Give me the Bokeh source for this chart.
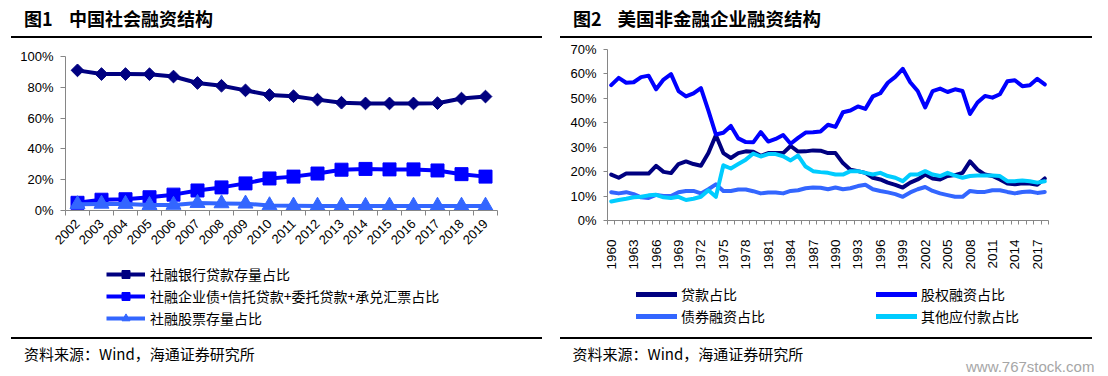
import math
from bokeh.plotting import figure
from bokeh.models import (Range1d, FixedTicker, PrintfTickFormatter, Legend,
                          LegendItem, Div)
from bokeh.layouts import row, column
from bokeh.embed import file_html
from bokeh.resources import INLINE

# ---------------- data: chart 1 (China) ----------------
years_cn = list(range(2002, 2020))
cn_bank_loans = [91.0, 88.6, 88.6, 88.5, 87.0, 82.8, 81.0, 78.0, 75.0, 74.2,
                 72.0, 70.0, 69.5, 69.5, 69.5, 69.7, 72.7, 74.0]
cn_bonds_trust = [5.0, 7.0, 7.3, 8.6, 10.3, 13.0, 15.0, 17.6, 20.8, 22.0,
                  24.0, 26.5, 27.0, 26.7, 26.7, 26.0, 23.6, 22.0]
cn_equity = [4.0, 4.3, 4.2, 3.5, 3.6, 4.8, 4.6, 4.4, 3.3, 3.1,
             3.0, 3.0, 2.9, 3.0, 3.0, 3.0, 3.0, 3.0]
cn_labels = ["社融银行贷款存量占比",
             "社融企业债+信托贷款+委托贷款+承兑汇票占比",
             "社融股票存量占比"]
cn_yticks = [0, 20, 40, 60, 80, 100]

# ---------------- data: chart 2 (US) ----------------
years_us = list(range(1960, 2019))
us_loans = [18.8, 17.5, 19.2, 19.2, 19.2, 19.2, 22.4, 19.9, 19.4, 23.1,
            24.2, 23.1, 22.4, 27.6, 34.9, 27.6, 25.6, 27.6, 28.3, 28.1,
            26.5, 27.6, 27.6, 27.6, 30.5, 28.2, 28.3, 28.7, 28.6, 27.6,
            27.6, 23.5, 20.8, 20.2, 19.5, 17.5, 16.8, 15.5, 14.6, 13.5,
            15.5, 16.8, 18.8, 17.2, 16.8, 18.2, 18.6, 19.5, 24.2, 20.8,
            18.8, 18.2, 16.8, 15.1, 14.8, 15.2, 15.1, 14.6, 17.2]
us_equity = [55.4, 58.4, 56.4, 56.6, 58.7, 59.3, 53.7, 57.7, 59.9, 53.0,
             50.8, 52.0, 54.2, 45.0, 35.2, 35.9, 38.7, 33.6, 32.1, 32.0,
             36.2, 32.3, 33.4, 35.0, 31.4, 33.8, 36.0, 36.1, 36.4, 39.2,
             38.3, 44.3, 45.0, 46.7, 45.7, 50.8, 52.1, 56.4, 58.8, 62.1,
             56.6, 53.0, 46.3, 53.0, 54.0, 52.6, 53.7, 53.0, 43.6, 48.3,
             51.0, 50.3, 51.7, 57.0, 57.4, 55.0, 55.4, 58.0, 55.7]
us_bonds = [11.6, 11.1, 11.6, 10.8, 9.5, 9.2, 10.5, 10.0, 10.0, 11.6,
            12.1, 12.1, 11.1, 12.8, 14.8, 12.1, 12.1, 12.7, 12.7, 12.0,
            11.1, 11.5, 11.5, 11.1, 12.1, 12.4, 13.2, 13.5, 13.4, 12.8,
            13.5, 12.8, 13.2, 14.1, 14.6, 12.8, 12.1, 11.5, 10.8, 9.7,
            11.5, 12.8, 13.7, 12.1, 11.1, 10.4, 9.7, 9.7, 12.1, 11.7,
            11.7, 12.4, 12.4, 11.7, 11.1, 11.7, 11.9, 11.3, 11.7]
us_other = [7.8, 8.4, 8.9, 9.5, 9.7, 10.3, 10.5, 9.5, 9.2, 9.7,
            8.4, 8.9, 9.7, 12.4, 9.7, 22.6, 21.3, 23.1, 24.9, 27.4,
            26.2, 27.2, 27.2, 26.3, 24.6, 26.6, 22.1, 20.2, 19.8, 19.5,
            18.8, 18.8, 20.2, 20.2, 19.5, 18.8, 19.5, 18.2, 17.5, 16.1,
            18.8, 18.8, 20.2, 18.8, 18.2, 19.5, 18.4, 17.5, 18.2, 18.4,
            18.4, 18.4, 18.2, 16.1, 16.1, 16.4, 16.1, 15.5, 16.1]
us_labels = ["贷款占比", "股权融资占比", "债券融资占比", "其他应付款占比"]
us_yticks = [0, 10, 20, 30, 40, 50, 60, 70]
us_xlabels = years_us[::3]

title1 = ("图1", "中国社会融资结构")
title2 = ("图2", "美国非金融企业融资结构")
source_text = "资料来源：Wind，海通证券研究所"
watermark = "www.767stock.com"

CJK = "Noto Sans CJK SC"
LAT = "Liberation Sans"
AXIS_GRAY = "#868686"
NAVY, BLUE, MID, CYAN = "#000080", "#0000FF", "#3366FF", "#00CCFF"

COL_W = 554
TOP_H, BOT_H = 38, 44


def base_fig(height, xr, yr, left, right, top, bottom):
    p = figure(width=COL_W, height=height, x_range=xr, y_range=yr,
               output_backend="svg", toolbar_location=None,
               min_border_left=left, min_border_right=right,
               min_border_top=top, min_border_bottom=bottom)
    p.outline_line_color = None
    p.grid.visible = False
    p.background_fill_color = "white"
    p.border_fill_color = "white"
    for ax in p.axis:
        ax.axis_line_color = AXIS_GRAY
        ax.major_tick_line_color = AXIS_GRAY
        ax.minor_tick_line_color = AXIS_GRAY
        ax.major_label_text_font = LAT
        ax.major_label_text_font_size = "13px"
        ax.major_label_text_color = "black"
        ax.major_tick_in = 0
        ax.minor_tick_in = 0
    return p


def legend_fig(height):
    # a plot that only hosts a legend; its ranges keep the proxy lines off-canvas
    f = figure(width=COL_W, height=height, x_range=Range1d(0, 1),
               y_range=Range1d(0, 1), output_backend="svg",
               toolbar_location=None, x_axis_location=None,
               y_axis_location=None, min_border=0)
    f.outline_line_color = None
    f.grid.visible = False
    f.border_fill_color = "white"
    return f


def span(left, top, text, size, lh, bold=False, font=CJK, color="#000"):
    return (f'<span style="position:absolute;left:{left}px;top:{top}px;'
            f'line-height:{lh}px;font-size:{size};font-family:\'{font}\';'
            f'font-weight:{"bold" if bold else "normal"};color:{color};'
            f'white-space:nowrap;">{text}</span>')


def rule(left, top, width, h=1.4):
    return (f'<div style="position:absolute;left:{left}px;top:{top}px;'
            f'width:{width}px;height:{h}px;background:#000;"></div>')


def box(height, inner, clip=False):
    html = (f'<div style="position:relative;width:{COL_W}px;height:{height}px;'
            f'{"overflow:hidden;" if clip else ""}">{inner}</div>')
    return Div(text=html, width=COL_W, height=height, margin=0)


def make_legend(items, loc, glyph_w, standoff, spacing, **kw):
    return Legend(items=items, location=loc, glyph_width=glyph_w,
                  glyph_height=20, label_height=20, label_standoff=standoff,
                  spacing=spacing, padding=0, margin=0,
                  border_line_color=None, background_fill_alpha=0,
                  label_text_font=CJK, label_text_font_size="14px",
                  label_text_color="black", **kw)


# ================= Figure 1 =================
p1 = base_fig(220, Range1d(2001.5, 2019.5), Range1d(0, 100), 65, 57, 18, 48)

p1.yaxis.ticker = FixedTicker(ticks=cn_yticks)
p1.yaxis.formatter = PrintfTickFormatter(format="%d%%")
p1.yaxis.major_tick_out = 5
p1.yaxis.minor_tick_out = 0
p1.yaxis.major_label_standoff = 7

p1.xaxis.ticker = FixedTicker(ticks=years_cn,
                              minor_ticks=[y - 0.5 for y in years_cn] + [years_cn[-1] + 0.5])
p1.xaxis.formatter = PrintfTickFormatter(format="%d")
p1.xaxis.major_tick_out = 0
p1.xaxis.minor_tick_out = 5
p1.xaxis.major_label_orientation = math.pi / 4
p1.xaxis.major_label_standoff = 6

series1 = [(cn_bank_loans, NAVY, "square", 9, math.pi / 4),
           (cn_bonds_trust, BLUE, "square", 13, 0),
           (cn_equity, MID, "triangle", 15, 0)]
lf1 = legend_fig(74)
items1 = []
for (vals, col, mk, sz, ang), lab in zip(series1, cn_labels):
    p1.line(years_cn, vals, line_color=col, line_width=4, line_join="round")
    p1.scatter(years_cn, vals, marker=mk, size=sz, angle=ang,
               fill_color=col, line_color=col)
    # legend proxies (outside the legend plot's visible range)
    l = lf1.line(years_cn, vals, line_color=col, line_width=4)
    s = lf1.scatter(years_cn, vals, marker=mk, size=sz * 0.85, angle=ang,
                    fill_color=col, line_color=col)
    items1.append(LegendItem(label=lab, renderers=[l, s]))
# the legend plot's frame is aligned with the chart frame above (left edge x=65)
lf1.add_layout(make_legend(items1, (41, 4), 39, 5, 2, orientation="vertical"))

top1 = box(TOP_H, span(24, 8, title1[0], "18px", 21, bold=True)
           + span(69, 8, title1[1], "18px", 21, bold=True)
           + rule(10.5, 36.3, 531.5))
bot1 = box(BOT_H, rule(10.5, 5.3, 531.5) + span(24, 12, source_text, "15px", 20))

# ================= Figure 2 =================
p2 = base_fig(234, Range1d(1959.5, 2018.5), Range1d(0, 70), 53, 60, 11, 48)

p2.yaxis.ticker = FixedTicker(ticks=us_yticks)
p2.yaxis.formatter = PrintfTickFormatter(format="%d%%")
p2.yaxis.major_tick_out = 4
p2.yaxis.minor_tick_out = 0
p2.yaxis.major_label_standoff = 7

p2.xaxis.ticker = FixedTicker(ticks=us_xlabels,
                              minor_ticks=[y - 0.5 for y in years_us] + [years_us[-1] + 0.5])
p2.xaxis.formatter = PrintfTickFormatter(format="%d")
p2.xaxis.major_tick_out = 0
p2.xaxis.minor_tick_out = 4
p2.xaxis.major_label_orientation = math.pi / 2
p2.xaxis.major_label_standoff = 15
p2.xaxis.major_label_text_font_size = "13.5px"

lf2 = legend_fig(60)
proxies = {}
for vals, col, lab in [(us_loans, NAVY, us_labels[0]), (us_equity, BLUE, us_labels[1]),
                       (us_bonds, MID, us_labels[2]), (us_other, CYAN, us_labels[3])]:
    p2.line(years_us, vals, line_color=col, line_width=4,
            line_join="round", line_cap="round")
    proxies[lab] = lf2.line(years_us, vals, line_color=col, line_width=5,
                            line_cap="round")

items2 = [LegendItem(label=lab, renderers=[proxies[lab]]) for lab in us_labels]
# frame left edge aligned with the chart above (x=607)
lf2.add_layout(make_legend(items2, (29, 6), 41, 4, 2, orientation="horizontal",
                           ncols=2, label_width=193))

top2 = box(TOP_H, span(19, 8, title2[0], "18px", 21, bold=True)
           + span(63.5, 8, title2[1], "18.5px", 21, bold=True)
           + rule(6, 36.3, 532))
bot2 = box(BOT_H, rule(6, 5.3, 532) + span(18.5, 12, source_text, "15px", 20)
           + span(412, 27, watermark, "15px", 16, font=LAT, color="#a6a6a6"),
           clip=True)

layout = row(column(top1, p1, lf1, bot1, spacing=0),
             column(top2, p2, lf2, bot2, spacing=0), spacing=0)
open("out.html", "w").write(file_html(layout, INLINE))
